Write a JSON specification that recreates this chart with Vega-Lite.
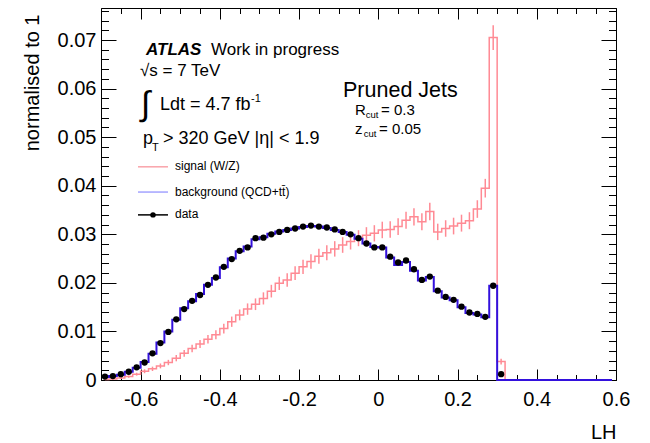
{
  "$schema": "https://vega.github.io/schema/vega-lite/v6.json",
  "width": 515,
  "height": 372,
  "autosize": "none",
  "padding": {"left": 101, "top": 8, "right": 34, "bottom": 63},
  "background": "white",
  "config": {
    "view": {"stroke": null},
    "font": "Liberation Sans",
    "axis": {
      "grid": false,
      "domainColor": "black",
      "domainWidth": 1,
      "tickColor": "black",
      "tickWidth": 1,
      "labelFont": "Liberation Sans",
      "labelFontSize": 20,
      "labelColor": "black",
      "labelFlush": false,
      "labelOverlap": false,
      "titleFont": "Liberation Sans",
      "titleFontSize": 20,
      "titleFontWeight": "normal",
      "titleColor": "black"
    }
  },
  "datasets": {
    "bins": [
      {"lh": -0.69, "sig": 0.0001, "se": 0.0001, "bkg": 0.0006, "dat": 0.0007},
      {"lh": -0.67, "sig": 0.0002, "se": 0.00015, "bkg": 0.0008, "dat": 0.0008},
      {"lh": -0.65, "sig": 0.0004, "se": 0.0002, "bkg": 0.0011, "dat": 0.0012},
      {"lh": -0.63, "sig": 0.0007, "se": 0.00025, "bkg": 0.0017, "dat": 0.0017},
      {"lh": -0.61, "sig": 0.0012, "se": 0.0003, "bkg": 0.0025, "dat": 0.0026},
      {"lh": -0.59, "sig": 0.0018, "se": 0.0004, "bkg": 0.0037, "dat": 0.0036},
      {"lh": -0.57, "sig": 0.0023, "se": 0.00045, "bkg": 0.0054, "dat": 0.0055},
      {"lh": -0.55, "sig": 0.0029, "se": 0.0005, "bkg": 0.0077, "dat": 0.0076},
      {"lh": -0.53, "sig": 0.0036, "se": 0.00055, "bkg": 0.0100, "dat": 0.0099},
      {"lh": -0.51, "sig": 0.0045, "se": 0.00065, "bkg": 0.0124, "dat": 0.0125},
      {"lh": -0.49, "sig": 0.0055, "se": 0.0007, "bkg": 0.0148, "dat": 0.0146},
      {"lh": -0.47, "sig": 0.0065, "se": 0.00078, "bkg": 0.0162, "dat": 0.0163},
      {"lh": -0.45, "sig": 0.0074, "se": 0.00083, "bkg": 0.0177, "dat": 0.0175},
      {"lh": -0.43, "sig": 0.0084, "se": 0.00088, "bkg": 0.0196, "dat": 0.0196},
      {"lh": -0.41, "sig": 0.0093, "se": 0.00093, "bkg": 0.0210, "dat": 0.0211},
      {"lh": -0.39, "sig": 0.0106, "se": 0.0010, "bkg": 0.0232, "dat": 0.0233},
      {"lh": -0.37, "sig": 0.0120, "se": 0.00106, "bkg": 0.0250, "dat": 0.0249},
      {"lh": -0.35, "sig": 0.0134, "se": 0.00112, "bkg": 0.0265, "dat": 0.0266},
      {"lh": -0.33, "sig": 0.0146, "se": 0.00117, "bkg": 0.0275, "dat": 0.0273},
      {"lh": -0.31, "sig": 0.0156, "se": 0.0012, "bkg": 0.0290, "dat": 0.0292},
      {"lh": -0.29, "sig": 0.0168, "se": 0.00125, "bkg": 0.0294, "dat": 0.0293},
      {"lh": -0.27, "sig": 0.0183, "se": 0.0013, "bkg": 0.0301, "dat": 0.0300},
      {"lh": -0.25, "sig": 0.0199, "se": 0.00136, "bkg": 0.0306, "dat": 0.0305},
      {"lh": -0.23, "sig": 0.0206, "se": 0.00139, "bkg": 0.0309, "dat": 0.0309},
      {"lh": -0.21, "sig": 0.0220, "se": 0.00143, "bkg": 0.0312, "dat": 0.0312},
      {"lh": -0.19, "sig": 0.0233, "se": 0.00147, "bkg": 0.0315, "dat": 0.0316},
      {"lh": -0.17, "sig": 0.0244, "se": 0.0015, "bkg": 0.0317, "dat": 0.0318},
      {"lh": -0.15, "sig": 0.0255, "se": 0.00154, "bkg": 0.0316, "dat": 0.0316},
      {"lh": -0.13, "sig": 0.0262, "se": 0.00156, "bkg": 0.0313, "dat": 0.0314},
      {"lh": -0.11, "sig": 0.0270, "se": 0.00159, "bkg": 0.0309, "dat": 0.0310},
      {"lh": -0.09, "sig": 0.0278, "se": 0.00161, "bkg": 0.0305, "dat": 0.0305},
      {"lh": -0.07, "sig": 0.0285, "se": 0.00163, "bkg": 0.0299, "dat": 0.0300},
      {"lh": -0.05, "sig": 0.0292, "se": 0.00165, "bkg": 0.0291, "dat": 0.0292},
      {"lh": -0.03, "sig": 0.0298, "se": 0.00167, "bkg": 0.0281, "dat": 0.0281},
      {"lh": -0.01, "sig": 0.0302, "se": 0.00168, "bkg": 0.0274, "dat": 0.0273},
      {"lh": 0.01, "sig": 0.0309, "se": 0.0017, "bkg": 0.0273, "dat": 0.0273},
      {"lh": 0.03, "sig": 0.0310, "se": 0.0017, "bkg": 0.0252, "dat": 0.0254},
      {"lh": 0.05, "sig": 0.0316, "se": 0.00172, "bkg": 0.0237, "dat": 0.0242},
      {"lh": 0.07, "sig": 0.0329, "se": 0.00175, "bkg": 0.0243, "dat": 0.0246},
      {"lh": 0.09, "sig": 0.0336, "se": 0.00177, "bkg": 0.0225, "dat": 0.0228},
      {"lh": 0.11, "sig": 0.0326, "se": 0.00174, "bkg": 0.0205, "dat": 0.0206},
      {"lh": 0.13, "sig": 0.0347, "se": 0.0018, "bkg": 0.0212, "dat": 0.0213},
      {"lh": 0.15, "sig": 0.0305, "se": 0.00169, "bkg": 0.0183, "dat": 0.0184},
      {"lh": 0.17, "sig": 0.0312, "se": 0.0017, "bkg": 0.0170, "dat": 0.0171},
      {"lh": 0.19, "sig": 0.0317, "se": 0.00172, "bkg": 0.0164, "dat": 0.0165},
      {"lh": 0.21, "sig": 0.0323, "se": 0.00174, "bkg": 0.0150, "dat": 0.0151},
      {"lh": 0.23, "sig": 0.0328, "se": 0.00175, "bkg": 0.0138, "dat": 0.0139},
      {"lh": 0.25, "sig": 0.0352, "se": 0.00181, "bkg": 0.0135, "dat": 0.0136},
      {"lh": 0.27, "sig": 0.0395, "se": 0.00192, "bkg": 0.0129, "dat": 0.0130},
      {"lh": 0.29, "sig": 0.0705, "se": 0.00256, "bkg": 0.0194, "dat": 0.0194},
      {"lh": 0.31, "sig": 0.0038, "se": 0.0006, "bkg": 0.0, "dat": 0.0012},
      {"lh": 0.33, "sig": 0, "se": 0, "bkg": 0, "dat": null},
      {"lh": 0.35, "sig": 0, "se": 0, "bkg": 0, "dat": null},
      {"lh": 0.37, "sig": 0, "se": 0, "bkg": 0, "dat": null},
      {"lh": 0.39, "sig": 0, "se": 0, "bkg": 0, "dat": null},
      {"lh": 0.41, "sig": 0, "se": 0, "bkg": 0, "dat": null},
      {"lh": 0.43, "sig": 0, "se": 0, "bkg": 0, "dat": null},
      {"lh": 0.45, "sig": 0, "se": 0, "bkg": 0, "dat": null},
      {"lh": 0.47, "sig": 0, "se": 0, "bkg": 0, "dat": null},
      {"lh": 0.49, "sig": 0, "se": 0, "bkg": 0, "dat": null},
      {"lh": 0.51, "sig": 0, "se": 0, "bkg": 0, "dat": null},
      {"lh": 0.53, "sig": 0, "se": 0, "bkg": 0, "dat": null},
      {"lh": 0.55, "sig": 0, "se": 0, "bkg": 0, "dat": null},
      {"lh": 0.57, "sig": 0, "se": 0, "bkg": 0, "dat": null},
      {"lh": 0.59, "sig": 0, "se": 0, "bkg": 0, "dat": null}
    ]
  },
  "resolve": {
    "scale": {"x": "shared", "y": "shared"},
    "axis": {"x": "independent", "y": "independent"}
  },
  "layer": [
    {
      "data": {"name": "bins"},
      "mark": {"type": "errorbar", "color": "#ff8a94", "thickness": 1.5},
      "encoding": {
        "x": {"field": "lh", "type": "quantitative",
              "axis": {"orient": "top", "values": [-0.7,-0.65,-0.6,-0.55,-0.5,-0.45,-0.4,-0.35,-0.3,-0.25,-0.2,-0.15,-0.1,-0.05,0,0.05,0.1,0.15,0.2,0.25,0.3,0.35,0.4,0.45,0.5,0.55,0.6], "tickSize": -5.5, "labels": false, "domain": false, "title": null}},
        "y": {"field": "sig", "type": "quantitative",
              "axis": {"orient": "right", "values": [0,0.002,0.004,0.006,0.008,0.01,0.012,0.014,0.016,0.018,0.02,0.022,0.024,0.026,0.028,0.03,0.032,0.034,0.036,0.038,0.04,0.042,0.044,0.046,0.048,0.05,0.052,0.054,0.056,0.058,0.06,0.062,0.064,0.066,0.068,0.07,0.072,0.074,0.076], "tickSize": -7.5, "labels": false, "domain": false, "title": null}},
        "yError": {"field": "se"}
      }
    },
    {
      "data": {"name": "bins"},
      "mark": {"type": "line", "interpolate": "step", "color": "#ff8a94", "strokeWidth": 1.5},
      "encoding": {
        "x": {"field": "lh", "type": "quantitative",
              "scale": {"domain": [-0.7, 0.6], "nice": false, "zero": false},
              "axis": {"orient": "bottom", "values": [-0.6,-0.4,-0.2,0,0.2,0.4,0.6], "tickSize": -11, "labelPadding": 20, "labelBaseline": "top", "labelExpr": "'' + datum.value", "domain": true, "title": "LH", "titleX": 515, "titleY": 52, "titleAlign": "right", "titleBaseline": "middle", "titleAnchor": "end"}},
        "y": {"field": "sig", "type": "quantitative",
              "scale": {"domain": [0, 0.0766], "nice": false, "zero": true},
              "axis": {"orient": "left", "values": [0,0.01,0.02,0.03,0.04,0.05,0.06,0.07], "tickSize": -15, "labelPadding": 20, "labelExpr": "'' + datum.value", "domain": true, "title": "normalised to 1", "titleX": -69, "titleY": 6, "titleAngle": 270, "titleAlign": "right", "titleBaseline": "middle", "titleAnchor": "end"}}
      }
    },
    {
      "data": {"name": "bins"},
      "mark": {"type": "line", "interpolate": "step", "color": "#3311dd", "strokeWidth": 2},
      "encoding": {
        "x": {"field": "lh", "type": "quantitative",
              "axis": {"orient": "bottom", "values": [-0.7,-0.65,-0.6,-0.55,-0.5,-0.45,-0.4,-0.35,-0.3,-0.25,-0.2,-0.15,-0.1,-0.05,0,0.05,0.1,0.15,0.2,0.25,0.3,0.35,0.4,0.45,0.5,0.55,0.6], "tickSize": -5.5, "labels": false, "domain": false, "title": null}},
        "y": {"field": "bkg", "type": "quantitative",
              "axis": {"orient": "left", "values": [0,0.002,0.004,0.006,0.008,0.01,0.012,0.014,0.016,0.018,0.02,0.022,0.024,0.026,0.028,0.03,0.032,0.034,0.036,0.038,0.04,0.042,0.044,0.046,0.048,0.05,0.052,0.054,0.056,0.058,0.06,0.062,0.064,0.066,0.068,0.07,0.072,0.074,0.076], "tickSize": -7.5, "labels": false, "domain": false, "title": null}}
      }
    },
    {
      "data": {"name": "bins"},
      "mark": {"type": "point", "filled": true, "shape": "circle", "size": 40, "color": "black", "opacity": 1},
      "encoding": {
        "x": {"field": "lh", "type": "quantitative",
              "axis": {"orient": "top", "values": [-0.6,-0.4,-0.2,0,0.2,0.4,0.6], "tickSize": -11, "labels": false, "domain": true, "title": null}},
        "y": {"field": "dat", "type": "quantitative",
              "axis": {"orient": "right", "values": [0,0.01,0.02,0.03,0.04,0.05,0.06,0.07], "tickSize": -15, "labels": false, "domain": true, "title": null}}
      }
    },
    {
      "data": {"values": [{}]},
      "mark": {"type": "text", "text": "ATLAS", "font": "Liberation Sans", "fontSize": 17, "fontWeight": "bold", "fontStyle": "italic", "align": "left", "baseline": "alphabetic", "color": "black"},
      "encoding": {"x": {"datum": -0.5864, "type": "quantitative", "axis": null}, "y": {"datum": 0.0669, "type": "quantitative", "axis": null}}
    },
    {
      "data": {"values": [{}]},
      "mark": {"type": "text", "text": "Work in progress", "font": "Liberation Sans", "fontSize": 17, "align": "left", "baseline": "alphabetic", "color": "black"},
      "encoding": {"x": {"datum": -0.4223, "type": "quantitative", "axis": null}, "y": {"datum": 0.0669, "type": "quantitative", "axis": null}}
    },
    {
      "data": {"values": [{}]},
      "mark": {"type": "text", "text": "√s = 7 TeV", "font": "Liberation Sans", "fontSize": 17, "align": "left", "baseline": "alphabetic", "color": "black"},
      "encoding": {"x": {"datum": -0.6016, "type": "quantitative", "axis": null}, "y": {"datum": 0.0626, "type": "quantitative", "axis": null}}
    },
    {
      "data": {"values": [{}]},
      "mark": {"type": "text", "text": "∫", "font": "Liberation Sans", "fontSize": 34, "align": "left", "baseline": "middle", "color": "black"},
      "encoding": {"x": {"datum": -0.599, "type": "quantitative", "axis": null}, "y": {"datum": 0.0566, "type": "quantitative", "axis": null}}
    },
    {
      "data": {"values": [{}]},
      "mark": {"type": "text", "text": "Ldt = 4.7 fb", "font": "Liberation Sans", "fontSize": 18, "align": "left", "baseline": "alphabetic", "color": "black"},
      "encoding": {"x": {"datum": -0.5511, "type": "quantitative", "axis": null}, "y": {"datum": 0.0556, "type": "quantitative", "axis": null}}
    },
    {
      "data": {"values": [{}]},
      "mark": {"type": "text", "text": "-1", "font": "Liberation Sans", "fontSize": 11, "align": "left", "baseline": "alphabetic", "color": "black"},
      "encoding": {"x": {"datum": -0.3214, "type": "quantitative", "axis": null}, "y": {"datum": 0.0572, "type": "quantitative", "axis": null}}
    },
    {
      "data": {"values": [{}]},
      "mark": {"type": "text", "text": "p", "font": "Liberation Sans", "fontSize": 18, "align": "left", "baseline": "alphabetic", "color": "black"},
      "encoding": {"x": {"datum": -0.594, "type": "quantitative", "axis": null}, "y": {"datum": 0.0486, "type": "quantitative", "axis": null}}
    },
    {
      "data": {"values": [{}]},
      "mark": {"type": "text", "text": "T", "font": "Liberation Sans", "fontSize": 11, "align": "left", "baseline": "alphabetic", "color": "black"},
      "encoding": {"x": {"datum": -0.5713, "type": "quantitative", "axis": null}, "y": {"datum": 0.0472, "type": "quantitative", "axis": null}}
    },
    {
      "data": {"values": [{}]},
      "mark": {"type": "text", "text": "> 320 GeV |η| < 1.9", "font": "Liberation Sans", "fontSize": 18, "align": "left", "baseline": "alphabetic", "color": "black"},
      "encoding": {"x": {"datum": -0.5435, "type": "quantitative", "axis": null}, "y": {"datum": 0.0486, "type": "quantitative", "axis": null}}
    },
    {
      "data": {"values": [{}]},
      "mark": {"type": "rule", "color": "#f9a3aa", "strokeWidth": 1.5},
      "encoding": {"x": {"datum": -0.6066, "type": "quantitative", "axis": null}, "x2": {"datum": -0.5309}, "y": {"datum": 0.0439, "type": "quantitative", "axis": null}}
    },
    {
      "data": {"values": [{}]},
      "mark": {"type": "text", "text": "signal (W/Z)", "font": "Liberation Sans", "fontSize": 12, "align": "left", "baseline": "middle", "color": "black"},
      "encoding": {"x": {"datum": -0.5132, "type": "quantitative", "axis": null}, "y": {"datum": 0.0441, "type": "quantitative", "axis": null}}
    },
    {
      "data": {"values": [{}]},
      "mark": {"type": "rule", "color": "#a3a3ff", "strokeWidth": 1.5},
      "encoding": {"x": {"datum": -0.6066, "type": "quantitative", "axis": null}, "x2": {"datum": -0.5309}, "y": {"datum": 0.0387, "type": "quantitative", "axis": null}}
    },
    {
      "data": {"values": [{}]},
      "mark": {"type": "text", "text": "background (QCD+tt̄)", "font": "Liberation Sans", "fontSize": 12, "align": "left", "baseline": "middle", "color": "black"},
      "encoding": {"x": {"datum": -0.5132, "type": "quantitative", "axis": null}, "y": {"datum": 0.0388, "type": "quantitative", "axis": null}}
    },
    {
      "data": {"values": [{}]},
      "mark": {"type": "rule", "color": "black", "strokeWidth": 1.5},
      "encoding": {"x": {"datum": -0.6066, "type": "quantitative", "axis": null}, "x2": {"datum": -0.5309}, "y": {"datum": 0.034, "type": "quantitative", "axis": null}}
    },
    {
      "data": {"values": [{}]},
      "mark": {"type": "point", "filled": true, "shape": "circle", "size": 30, "color": "black", "opacity": 1},
      "encoding": {"x": {"datum": -0.5687, "type": "quantitative", "axis": null}, "y": {"datum": 0.034, "type": "quantitative", "axis": null}}
    },
    {
      "data": {"values": [{}]},
      "mark": {"type": "text", "text": "data", "font": "Liberation Sans", "fontSize": 12, "align": "left", "baseline": "middle", "color": "black"},
      "encoding": {"x": {"datum": -0.5132, "type": "quantitative", "axis": null}, "y": {"datum": 0.0341, "type": "quantitative", "axis": null}}
    },
    {
      "data": {"values": [{}]},
      "mark": {"type": "text", "text": "Pruned Jets", "font": "Liberation Sans", "fontSize": 21.5, "align": "left", "baseline": "alphabetic", "color": "black"},
      "encoding": {"x": {"datum": -0.0891, "type": "quantitative", "axis": null}, "y": {"datum": 0.0583, "type": "quantitative", "axis": null}}
    },
    {
      "data": {"values": [{}]},
      "mark": {"type": "text", "text": "R", "font": "Liberation Sans", "fontSize": 15, "align": "left", "baseline": "alphabetic", "color": "black"},
      "encoding": {"x": {"datum": -0.0588, "type": "quantitative", "axis": null}, "y": {"datum": 0.0546, "type": "quantitative", "axis": null}}
    },
    {
      "data": {"values": [{}]},
      "mark": {"type": "text", "text": "cut", "font": "Liberation Sans", "fontSize": 9.5, "align": "left", "baseline": "alphabetic", "color": "black"},
      "encoding": {"x": {"datum": -0.0316, "type": "quantitative", "axis": null}, "y": {"datum": 0.054, "type": "quantitative", "axis": null}}
    },
    {
      "data": {"values": [{}]},
      "mark": {"type": "text", "text": "= 0.3", "font": "Liberation Sans", "fontSize": 15, "align": "left", "baseline": "alphabetic", "color": "black"},
      "encoding": {"x": {"datum": 0.0068, "type": "quantitative", "axis": null}, "y": {"datum": 0.0546, "type": "quantitative", "axis": null}}
    },
    {
      "data": {"values": [{}]},
      "mark": {"type": "text", "text": "z", "font": "Liberation Sans", "fontSize": 15, "align": "left", "baseline": "alphabetic", "color": "black"},
      "encoding": {"x": {"datum": -0.0588, "type": "quantitative", "axis": null}, "y": {"datum": 0.0507, "type": "quantitative", "axis": null}}
    },
    {
      "data": {"values": [{}]},
      "mark": {"type": "text", "text": "cut", "font": "Liberation Sans", "fontSize": 9.5, "align": "left", "baseline": "alphabetic", "color": "black"},
      "encoding": {"x": {"datum": -0.0366, "type": "quantitative", "axis": null}, "y": {"datum": 0.05, "type": "quantitative", "axis": null}}
    },
    {
      "data": {"values": [{}]},
      "mark": {"type": "text", "text": "= 0.05", "font": "Liberation Sans", "fontSize": 15, "align": "left", "baseline": "alphabetic", "color": "black"},
      "encoding": {"x": {"datum": 0.0018, "type": "quantitative", "axis": null}, "y": {"datum": 0.0507, "type": "quantitative", "axis": null}}
    }
  ]
}
